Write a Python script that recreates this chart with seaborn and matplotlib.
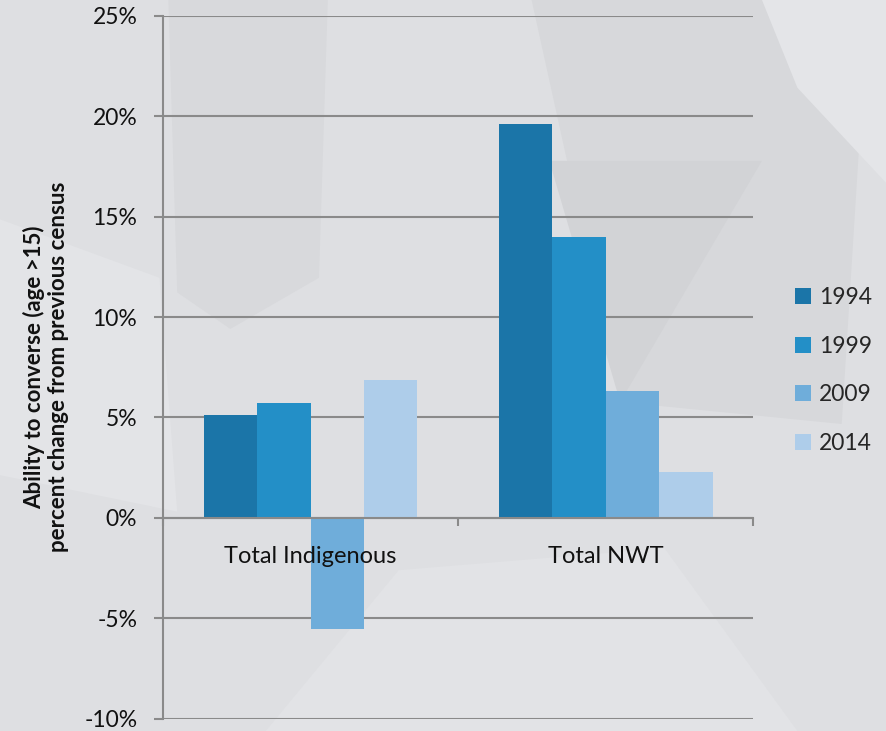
import numpy as np
import pandas as pd
import seaborn as sns
import matplotlib.pyplot as plt
from matplotlib.patches import Polygon
from matplotlib.ticker import FuncFormatter

CATEGORIES = ['Total Indigenous', 'Total NWT']
YEARS = ['1994', '1999', '2009', '2014']
CHANGE_1994 = [5.1, 19.6]
CHANGE_1999 = [5.7, 14.0]
CHANGE_2009 = [-5.55, 6.3]
CHANGE_2014 = [6.85, 2.3]
YEAR_COLORS = ['#1b75a8', '#238fc7', '#6fadda', '#aecdea']
Y_TICKS = [-10, -5, 0, 5, 10, 15, 20, 25]
Y_LABEL = 'Ability to converse (age >15)\npercent change from previous census'

rows = []
for year, values in zip(YEARS, [CHANGE_1994, CHANGE_1999, CHANGE_2009, CHANGE_2014]):
    for cat, v in zip(CATEGORIES, values):
        rows.append({'category': cat, 'year': year, 'change': v})
df = pd.DataFrame(rows)

sns.set_style('white')
plt.rcParams['font.family'] = ['Lato', 'DejaVu Sans']

fig = plt.figure(figsize=(8.86, 7.31), dpi=100)
fig.patch.set_facecolor('#dedfe2')

# faint geometric background
shapes = [
    ([(0.19, 1.0), (0.37, 1.0), (0.36, 0.62), (0.26, 0.55), (0.2, 0.6)], '#d8d9dc'),
    ([(0.6, 1.0), (0.98, 1.0), (0.95, 0.42), (0.7, 0.45)], '#d7d8db'),
    ([(0.62, 0.78), (0.86, 0.78), (0.7, 0.45)], '#d2d3d6'),
    ([(0.86, 1.0), (1.0, 1.0), (1.0, 0.75), (0.9, 0.88)], '#e4e5e8'),
    ([(0.0, 0.7), (0.18, 0.62), (0.2, 0.3), (0.0, 0.35)], '#e3e4e7'),
    ([(0.3, 0.0), (0.9, 0.0), (0.75, 0.25), (0.45, 0.22)], '#e2e3e6'),
]
for pts, col in shapes:
    fig.patches.append(Polygon(pts, closed=True, transform=fig.transFigure,
                               facecolor=col, edgecolor='none', zorder=-5))

ax = fig.add_axes([0.184, 0.017, 0.666, 0.9612])
ax.set_zorder(2)
ax.set_facecolor('none')

sns.barplot(data=df, x='category', y='change', hue='year', order=CATEGORIES,
            hue_order=YEARS, palette=YEAR_COLORS, width=0.725, gap=0,
            saturation=1, linewidth=0, ax=ax, zorder=1)

ax.set_ylim(-10, 25)
ax.set_xlim(-0.5, 1.5)
ax.set_yticks(Y_TICKS)
ax.yaxis.set_major_formatter(FuncFormatter(lambda v, p: f'{v:.0f}%'))
# gridlines drawn by hand so the axis labels can stay above the bars
ax.set_axisbelow(False)
for t in Y_TICKS:
    ax.axhline(t, color='#8a8a8a', linewidth=1.5, zorder=0.5)

for s in ['top', 'right']:
    ax.spines[s].set_visible(False)
ax.spines['left'].set_color('#8a8a8a')
ax.spines['left'].set_linewidth(1.5)
ax.spines['bottom'].set_position(('data', 0))
ax.spines['bottom'].set_color('#8a8a8a')
ax.spines['bottom'].set_linewidth(1.5)

ax.tick_params(axis='y', length=6.5, width=1.5, color='#8a8a8a', pad=12,
               labelsize=16.5, labelcolor='#111111', left=True)
ax.set_xticks([0, 1])
ax.set_xticklabels(CATEGORIES)
ax.set_xticks([-0.5, 0.5, 1.5], minor=True)
ax.tick_params(axis='x', which='major', length=0, pad=20, labelsize=17,
               labelcolor='#111111')
ax.tick_params(axis='x', which='minor', length=6, width=1.5, color='#8a8a8a',
               bottom=True, direction='out')

ax.set_xlabel('')
ax.set_ylabel(Y_LABEL, fontsize=16, fontweight='bold', color='#111111',
              labelpad=11, linespacing=1.15)

handles, labels = ax.get_legend_handles_labels()
ax.legend(handles, labels, loc='center left', bbox_to_anchor=(0.887, 0.493),
          bbox_transform=fig.transFigure, frameon=False, fontsize=16.5,
          handlelength=0.7, handleheight=0.7, handletextpad=0.35,
          labelspacing=1.2, borderaxespad=0)

fig.savefig('out.png', dpi=100, facecolor=fig.get_facecolor())
